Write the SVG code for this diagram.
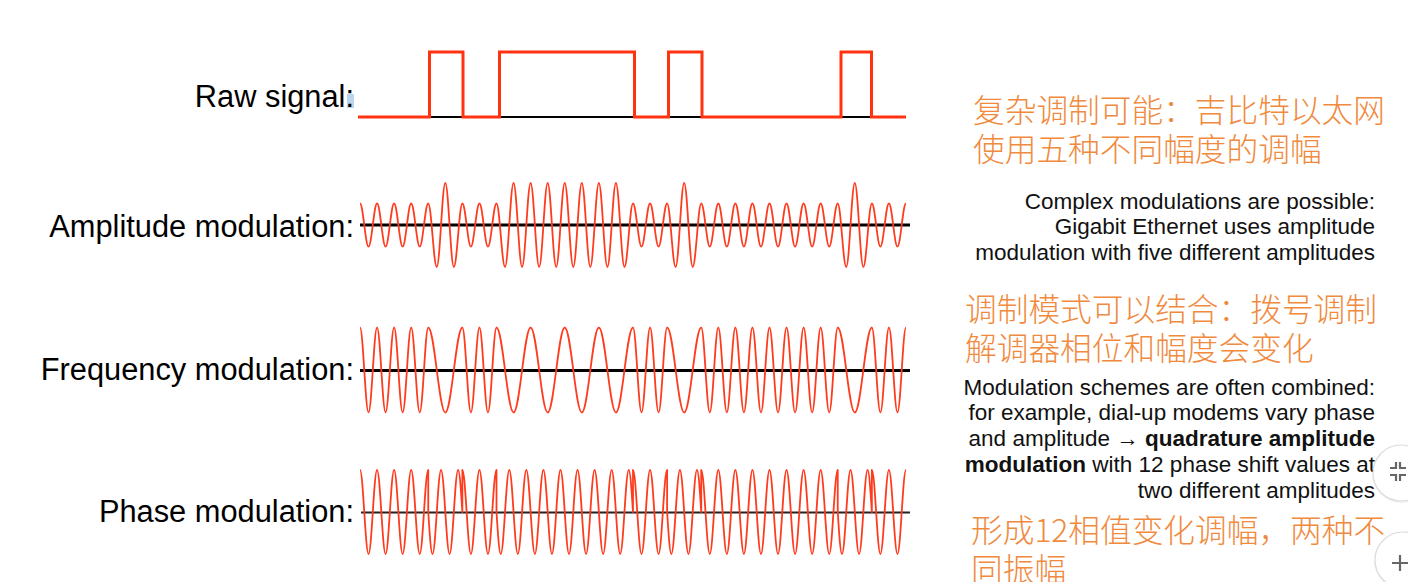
<svg xmlns="http://www.w3.org/2000/svg" width="1408" height="582" viewBox="0 0 1408 582">
<style>
.lbl{font-family:"Liberation Sans",Arial,sans-serif;font-size:30.8px;fill:#000;text-anchor:end}
.en{font-family:"Liberation Sans",Arial,sans-serif;font-size:22.5px;fill:#111;text-anchor:end}
.zh{font-family:"Noto Sans CJK SC","Noto Sans CJK JP",sans-serif;font-size:31.7px;font-weight:300;fill:#f08a3e}
.wave{fill:none;stroke:#ff3b1e;stroke-width:1.8;stroke-linejoin:round}
.axis{stroke:#000;stroke-width:3}
.btn{fill:#fff;stroke:#dcdcdc;stroke-width:1.2}
.ico{fill:none;stroke:#666;stroke-width:2.2}
</style>
<rect width="1408" height="582" fill="#fff"/>
<g id="labels">
<rect x="347" y="94" width="7" height="14" fill="#b9d6ee"/>
<text class="lbl" x="354" y="107">Raw signal:</text>
<text class="lbl" x="354" y="237">Amplitude modulation:</text>
<text class="lbl" x="354" y="380">Frequency modulation:</text>
<text class="lbl" x="354" y="522">Phase modulation:</text>
</g>
<g id="raw-signal">
<line x1="358" y1="117" x2="906" y2="117" stroke="#000" stroke-width="2"/>
<path d="M358,117 H429.5 V52 H463 V117 H499.5 V52 H634.5 V117 H668.5 V52 H702 V117 H841 V52 H871.5 V117 H906" fill="none" stroke="#ff3311" stroke-width="3"/>
</g>
<g id="amplitude-modulation">
<line class="axis" x1="360" y1="225" x2="910" y2="225"/>
<path class="wave" d="M360,203.5 c3.1,0 5.431,43 8.531,43 s5.431,-43 8.531,-43 s5.431,43 8.531,43 s5.431,-43 8.531,-43 s5.431,43 8.531,43 s5.431,-43 8.531,-43 s5.431,43 8.531,43 s5.431,-43 8.531,-43 s5.431,63.5 8.531,63.5 s5.431,-84 8.531,-84 s5.431,84 8.531,84 s5.431,-63.5 8.531,-63.5 s5.431,43 8.531,43 s5.431,-43 8.531,-43 s5.431,43 8.531,43 s5.431,-43 8.531,-43 s5.431,63.5 8.531,63.5 s5.431,-84 8.531,-84 s5.431,84 8.531,84 s5.431,-84 8.531,-84 s5.431,84 8.531,84 s5.431,-84 8.531,-84 s5.431,84 8.531,84 s5.431,-84 8.531,-84 s5.431,84 8.531,84 s5.431,-84 8.531,-84 s5.431,84 8.531,84 s5.431,-84 8.531,-84 s5.431,84 8.531,84 s5.431,-84 8.531,-84 s5.431,84 8.531,84 s5.431,-63.5 8.531,-63.5 s5.431,43 8.531,43 s5.431,-43 8.531,-43 s5.431,43 8.531,43 s5.431,-43 8.531,-43 s5.431,63.5 8.531,63.5 s5.431,-84 8.531,-84 s5.431,84 8.531,84 s5.431,-63.5 8.531,-63.5 s5.431,43 8.531,43 s5.431,-43 8.531,-43 s5.431,43 8.531,43 s5.431,-43 8.531,-43 s5.431,43 8.531,43 s5.431,-43 8.531,-43 s5.431,43 8.531,43 s5.431,-43 8.531,-43 s5.431,43 8.531,43 s5.431,-43 8.531,-43 s5.431,43 8.531,43 s5.431,-43 8.531,-43 s5.431,43 8.531,43 s5.431,-43 8.531,-43 s5.431,43 8.531,43 s5.431,-43 8.531,-43 s5.431,63.5 8.531,63.5 s5.431,-84 8.531,-84 s5.431,84 8.531,84 s5.431,-63.5 8.531,-63.5 s5.431,43 8.531,43 s5.431,-43 8.531,-43 s5.431,43 8.531,43 s5.431,-43 8.531,-43"/>
</g>
<g id="frequency-modulation">
<line class="axis" x1="360" y1="370.5" x2="910" y2="370.5"/>
<path class="wave" d="M360,327.5
c3.1,0 5.431,85 8.531,85 s5.431,-85 8.531,-85 s5.431,85 8.531,85 s5.431,-85 8.531,-85
c3.1,0 5.431,85 8.531,85 s5.431,-85 8.531,-85 s5.431,85 8.531,85 s5.431,-85 8.531,-85
c6.201,0 10.861,85 17.063,85 s10.861,-85 17.063,-85
c3.1,0 5.431,85 8.531,85 s5.431,-85 8.531,-85 s5.431,85 8.531,85 s5.431,-85 8.531,-85
c6.201,0 10.861,85 17.063,85 s10.861,-85 17.063,-85
c6.201,0 10.861,85 17.063,85 s10.861,-85 17.063,-85
c6.201,0 10.861,85 17.063,85 s10.861,-85 17.063,-85
c6.201,0 10.861,85 17.063,85 s10.861,-85 17.063,-85
c3.1,0 5.431,85 8.531,85 s5.431,-85 8.531,-85 s5.431,85 8.531,85 s5.431,-85 8.531,-85
c6.201,0 10.861,85 17.063,85 s10.861,-85 17.063,-85
c3.1,0 5.431,85 8.531,85 s5.431,-85 8.531,-85 s5.431,85 8.531,85 s5.431,-85 8.531,-85
c3.1,0 5.431,85 8.531,85 s5.431,-85 8.531,-85 s5.431,85 8.531,85 s5.431,-85 8.531,-85
c3.1,0 5.431,85 8.531,85 s5.431,-85 8.531,-85 s5.431,85 8.531,85 s5.431,-85 8.531,-85
c3.1,0 5.431,85 8.531,85 s5.431,-85 8.531,-85 s5.431,85 8.531,85 s5.431,-85 8.531,-85
c6.201,0 10.861,85 17.063,85 s10.861,-85 17.063,-85
c3.1,0 5.431,85 8.531,85 s5.431,-85 8.531,-85 s5.431,85 8.531,85 s5.431,-85 8.531,-85"/>
</g>
<g id="phase-modulation">
<line x1="361" y1="512.5" x2="910" y2="512.5" stroke="#222" stroke-width="2"/>
<path class="wave" d="M360,470
c3.1,0 5.431,84 8.531,84 s5.431,-84 8.531,-84 s5.431,84 8.531,84 s5.431,-84 8.531,-84
c3.1,0 5.431,84 8.531,84 s5.431,-84 8.531,-84 s5.431,84 8.531,84 s5.431,-84 8.531,-84
v42 c1.391,21.52 2.722,42 4.266,42 c3.1,0 5.431,-84 8.531,-84 s5.431,84 8.531,84 s5.431,-84 8.531,-84 c1.544,0 2.875,20.48 4.266,42 v-42
c3.1,0 5.431,84 8.531,84 s5.431,-84 8.531,-84 s5.431,84 8.531,84 s5.431,-84 8.531,-84
v42 c1.391,21.52 2.722,42 4.266,42 c3.1,0 5.431,-84 8.531,-84 s5.431,84 8.531,84 s5.431,-84 8.531,-84 s5.431,84 8.531,84 s5.431,-84 8.531,-84 s5.431,84 8.531,84 s5.431,-84 8.531,-84 s5.431,84 8.531,84 s5.431,-84 8.531,-84 s5.431,84 8.531,84 s5.431,-84 8.531,-84 s5.431,84 8.531,84 s5.431,-84 8.531,-84 s5.431,84 8.531,84 s5.431,-84 8.531,-84 c1.544,0 2.875,20.48 4.266,42 v-42
c3.1,0 5.431,84 8.531,84 s5.431,-84 8.531,-84 s5.431,84 8.531,84 s5.431,-84 8.531,-84
v42 c1.391,21.52 2.722,42 4.266,42 c3.1,0 5.431,-84 8.531,-84 s5.431,84 8.531,84 s5.431,-84 8.531,-84 c1.544,0 2.875,20.48 4.266,42 v-42
c3.1,0 5.431,84 8.531,84 s5.431,-84 8.531,-84 s5.431,84 8.531,84 s5.431,-84 8.531,-84
c3.1,0 5.431,84 8.531,84 s5.431,-84 8.531,-84 s5.431,84 8.531,84 s5.431,-84 8.531,-84
c3.1,0 5.431,84 8.531,84 s5.431,-84 8.531,-84 s5.431,84 8.531,84 s5.431,-84 8.531,-84
c3.1,0 5.431,84 8.531,84 s5.431,-84 8.531,-84 s5.431,84 8.531,84 s5.431,-84 8.531,-84
v42 c1.391,21.52 2.722,42 4.266,42 c3.1,0 5.431,-84 8.531,-84 s5.431,84 8.531,84 s5.431,-84 8.531,-84 c1.544,0 2.875,20.48 4.266,42 v-42
c3.1,0 5.431,84 8.531,84 s5.431,-84 8.531,-84 s5.431,84 8.531,84 s5.431,-84 8.531,-84"/>
</g>
<g id="note-complex">
<text class="zh" x="973" y="122">复杂调制可能：吉比特以太网</text>
<text class="zh" x="973" y="161">使用五种不同幅度的调幅</text>
<text class="en" x="1375" y="208.5">Complex modulations are possible:</text>
<text class="en" x="1375" y="234">Gigabit Ethernet uses amplitude</text>
<text class="en" x="1375" y="259.5">modulation with five different amplitudes</text>
</g>
<g id="note-combined">
<text class="zh" x="965" y="321">调制模式可以结合：拨号调制</text>
<text class="zh" x="965" y="360">解调器相位和幅度会变化</text>
<text class="en" x="1375" y="394.5">Modulation schemes are often combined:</text>
<text class="en" x="1375" y="420">for example, dial-up modems vary phase</text>
<text class="en" x="1375" y="446">and amplitude → <tspan font-weight="bold">quadrature amplitude</tspan></text>
<text class="en" x="1375" y="472"><tspan font-weight="bold">modulation</tspan> with 12 phase shift values at</text>
<text class="en" x="1375" y="497.5">two different amplitudes</text>
</g>
<g id="note-qam">
<text class="zh" x="971" y="542">形成12相值变化调幅，两种不</text>
<text class="zh" x="971" y="581">同振幅</text>
</g>
<g id="buttons">
<circle cx="1401" cy="474" r="29" fill="#000" opacity="0.05"/>
<circle class="btn" cx="1401" cy="473" r="28"/>
<path class="ico" d="M1390,468 h6 v-6 M1400,462 v6 h6 M1390,475 h6 v6 M1406,475 h-6 v6"/>
<circle cx="1403" cy="561" r="29" fill="#000" opacity="0.05"/>
<circle class="btn" cx="1403" cy="560" r="28"/>
<path class="ico" d="M1392,563 h16 M1400,555 v16" stroke="#555"/>
</g>
</svg>
